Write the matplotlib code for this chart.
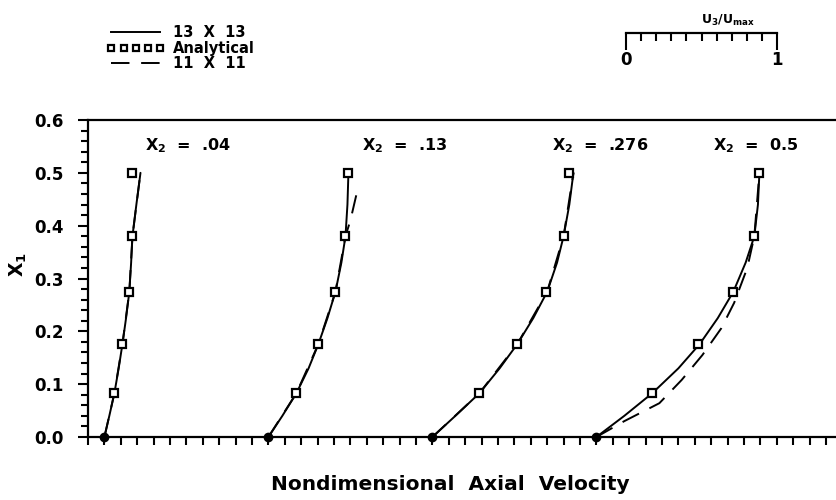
import matplotlib
matplotlib.use("Agg")
import matplotlib.pyplot as plt
from matplotlib.lines import Line2D
from matplotlib.ticker import MultipleLocator, FixedLocator, NullFormatter
import numpy as np

plt.rcParams['font.family'] = ['DejaVu Sans']
plt.rcParams['font.weight'] = 'bold'
plt.rcParams['axes.labelweight'] = 'bold'
plt.rcParams['mathtext.fontset'] = 'custom'
plt.rcParams['mathtext.rm'] = 'DejaVu Sans:bold'
plt.rcParams['mathtext.it'] = 'DejaVu Sans:bold'
plt.rcParams['mathtext.default'] = 'rm'

# ---------------- data ----------------
x2_labels = ["X$_2$  =  .04", "X$_2$  =  .13", "X$_2$  =  .276", "X$_2$  =  0.5"]
offsets = [0.1, 1.1, 2.1, 3.1]          # profile origins along velocity axis

# Analytical (open squares)
x1_analytic = [0.0, 0.083, 0.176, 0.275, 0.38, 0.5]
u_analytic_04 = [0.0, 0.061, 0.110, 0.152, 0.171, 0.171]
u_analytic_13 = [0.0, 0.171, 0.305, 0.409, 0.470, 0.488]
u_analytic_276 = [0.0, 0.287, 0.518, 0.695, 0.805, 0.835]
u_analytic_5 = [0.0, 0.341, 0.622, 0.835, 0.963, 0.994]

# 13 x 13 solution (solid)
x1_fine = [0.0, 0.04, 0.083, 0.13, 0.176, 0.225, 0.275, 0.33, 0.38, 0.44, 0.5]
u_fine_04 = [0.0, 0.030, 0.061, 0.087, 0.110, 0.132, 0.152, 0.163, 0.171, 0.195, 0.220]
u_fine_13 = [0.0, 0.085, 0.171, 0.245, 0.305, 0.360, 0.409, 0.445, 0.470, 0.482, 0.488]
u_fine_276 = [0.0, 0.140, 0.287, 0.410, 0.518, 0.615, 0.700, 0.760, 0.800, 0.835, 0.860]
u_fine_5 = [0.0, 0.170, 0.341, 0.500, 0.630, 0.740, 0.835, 0.910, 0.963, 0.985, 0.994]

# 11 x 11 solution (dashed)
x1_coarse_04 = [0.0, 0.083, 0.176, 0.275, 0.38, 0.5]
u_coarse_04 = [0.0, 0.061, 0.110, 0.152, 0.171, 0.220]
x1_coarse_13 = [0.0, 0.083, 0.176, 0.275, 0.38, 0.41, 0.47]
u_coarse_13 = [0.0, 0.171, 0.305, 0.409, 0.470, 0.500, 0.545]
x1_coarse_276 = [0.0, 0.083, 0.176, 0.275, 0.38, 0.5]
u_coarse_276 = [0.0, 0.287, 0.518, 0.700, 0.800, 0.860]
x1_coarse_5 = [0.0, 0.03, 0.064, 0.108, 0.155, 0.206, 0.254, 0.32, 0.38, 0.5]
u_coarse_5 = [0.0, 0.170, 0.384, 0.520, 0.646, 0.762, 0.840, 0.920, 0.963, 0.994]

y_ticks = [0.0, 0.1, 0.2, 0.3, 0.4, 0.5, 0.6]
y_ticklabels = ["0.0", "0.1", "0.2", "0.3", "0.4", "0.5", "0.6"]

analytic = [u_analytic_04, u_analytic_13, u_analytic_276, u_analytic_5]
fine = [u_fine_04, u_fine_13, u_fine_276, u_fine_5]
coarse = [(x1_coarse_04, u_coarse_04), (x1_coarse_13, u_coarse_13),
          (x1_coarse_276, u_coarse_276), (x1_coarse_5, u_coarse_5)]

# ---------------- figure ----------------
W, H = 836, 500
fig = plt.figure(figsize=(W / 100, H / 100), dpi=100)
L, R, B, T = 88, 836, 437, 120
ax = fig.add_axes([L / W, (H - B) / H, (R - L) / W, (B - T) / H])

lw = 1.4
dash = (0, (9.5, 6))
for off, ua, uf, (xc, uc) in zip(offsets, analytic, fine, coarse):
    ax.plot(off + np.array(uf), x1_fine, color='black', lw=lw, solid_capstyle='round', zorder=3)
    ax.plot(off + np.array(uc), xc, color='black', lw=lw, linestyle=dash, zorder=3)
    ax.plot(off + np.array(ua[1:]), x1_analytic[1:], linestyle='none', marker='s', ms=5.5,
            mfc='white', mec='black', mew=1.6, zorder=4)
    ax.plot(off + ua[0], x1_analytic[0], linestyle='none', marker='o', ms=6,
            mfc='black', mec='black', zorder=5, clip_on=False)

label_x = [0.61, 1.93, 3.12, 4.07]
for lx, lab in zip(label_x, x2_labels):
    ax.text(lx, 0.551, lab, ha='center', va='center', fontsize=11.5)

ax.set_xlim(0, (R - L) / 164)
ax.set_ylim(0, 0.6)
ax.spines['right'].set_visible(False)
for s in ['top', 'left', 'bottom']:
    ax.spines[s].set_linewidth(1.6)

ax.xaxis.set_major_locator(MultipleLocator(0.1))
ax.xaxis.set_major_formatter(NullFormatter())
ax.tick_params(axis='x', which='major', direction='out', length=6, width=1.5, bottom=True, top=False)
ax.yaxis.set_major_locator(FixedLocator(y_ticks))
ax.set_yticklabels(y_ticklabels)
ax.yaxis.set_minor_locator(MultipleLocator(0.02))
ax.tick_params(axis='y', which='major', direction='out', length=7.5, width=1.5, labelsize=12, pad=10)
ax.tick_params(axis='y', which='minor', direction='out', length=5, width=1.5)

ax.set_xlabel("Nondimensional  Axial  Velocity", fontsize=14.5, fontweight='bold', labelpad=0)
ax.xaxis.set_label_coords((450 - L) / (R - L), -(485 - B) / (B - T))
ax.xaxis.label.set_va('center')
ax.set_ylabel("X$_1$", fontsize=13.5, fontweight='bold')
ax.yaxis.set_label_coords(-(88 - 18) / (R - L), (B - 265) / (B - T))
ax.yaxis.label.set_va('center')

# ---------------- legend ----------------
handles = [
    Line2D([], [], color='black', lw=lw),
    Line2D([], [], linestyle='none', marker='s', ms=5, mfc='white', mec='black', mew=1.6),
    Line2D([], [], color='black', lw=lw, linestyle=dash),
]
leg = fig.legend(handles, ["13  X  13", "Analytical", "11  X  11"], loc='upper left',
                 bbox_to_anchor=(107 / W, 1 - 25 / H), frameon=False, fontsize=10.5,
                 numpoints=5, handlelength=3.95, handletextpad=0.6, labelspacing=0.05,
                 borderpad=0, borderaxespad=0)

# ---------------- scale bar ----------------
sb = fig.add_axes([626 / W, (H - 33) / H, 151 / W, 0.001])
sb.set_xlim(0, 1)
sb.set_ylim(0, 1)
for s in ['top', 'left', 'right']:
    sb.spines[s].set_visible(False)
sb.spines['bottom'].set_linewidth(1.6)
sb.set_yticks([])
sb.xaxis.set_major_locator(FixedLocator([0, 1]))
sb.set_xticklabels(["0", "1"])
sb.xaxis.set_minor_locator(FixedLocator(np.arange(1, 10) / 10))
sb.tick_params(axis='x', which='major', direction='out', length=12, width=1.5, labelsize=12, pad=1)
sb.tick_params(axis='x', which='minor', direction='out', length=6, width=1.5)
sb.text(0.675, 9, "U$_3$/U$_{max}$", transform=sb.get_xaxis_transform(), ha='center',
        va='bottom', fontsize=9)
sb.set_facecolor('none')

fig.savefig("out.png", dpi=100)
